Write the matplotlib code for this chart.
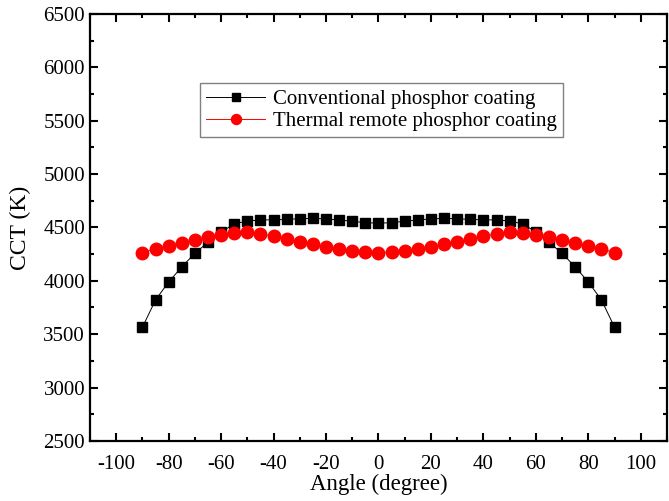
import matplotlib.pyplot as plt
from matplotlib.ticker import MultipleLocator

# data
angle = [-90, -85, -80, -75, -70, -65, -60, -55, -50, -45, -40, -35, -30, -25, -20, -15, -10, -5,
         0, 5, 10, 15, 20, 25, 30, 35, 40, 45, 50, 55, 60, 65, 70, 75, 80, 85, 90]
conventional = [3565, 3821, 3989, 4130, 4258, 4361, 4458, 4533, 4561, 4570, 4572, 4575, 4582, 4585,
                4580, 4570, 4558, 4545, 4540, 4545, 4558, 4570, 4580, 4585, 4582, 4575, 4572,
                4570, 4561, 4533, 4458, 4361, 4258, 4130, 3989, 3821, 3565]
remote = [4264, 4301, 4329, 4354, 4380, 4408, 4433, 4449, 4455, 4438, 4420, 4392, 4367, 4345,
          4316, 4297, 4283, 4270, 4264, 4270, 4283, 4297, 4316, 4345, 4367, 4392, 4420, 4438,
          4455, 4449, 4433, 4408, 4380, 4354, 4329, 4301, 4264]

plt.rcParams['font.family'] = ['Liberation Serif', 'DejaVu Serif']
plt.rcParams['axes.unicode_minus'] = False

fig = plt.figure(figsize=(6.69, 5.01), dpi=100)
ax = fig.add_axes([0.1345, 0.12, 0.8625, 0.852])

ax.plot(angle, conventional, color='black', lw=0.7, marker='s', ms=7.5,
        mfc='black', mec='black', label='Conventional phosphor coating')
ax.plot(angle, remote, color='red', lw=0.7, marker='o', ms=9,
        mfc='red', mec='red', label='Thermal remote phosphor coating')

ax.set_xlim(-110, 110)
ax.set_ylim(2500, 6500)
ax.xaxis.set_major_locator(MultipleLocator(20))
ax.xaxis.set_minor_locator(MultipleLocator(10))
ax.yaxis.set_major_locator(MultipleLocator(500))
ax.yaxis.set_minor_locator(MultipleLocator(250))

ax.tick_params(which='both', direction='in', top=True, right=True, width=1.5, labelsize=15)
ax.tick_params(which='major', length=6)
ax.tick_params(which='minor', length=3)
ax.tick_params(axis='x', pad=10)
for s in ax.spines.values():
    s.set_linewidth(1.6)

ax.set_xlabel('Angle (degree)', fontsize=16.5, labelpad=0)
ax.set_ylabel('CCT (K)', fontsize=17, labelpad=9)

leg = ax.legend(loc='upper left', bbox_to_anchor=(0.173, 0.862), fontsize=15,
                frameon=True, fancybox=False, edgecolor='gray', framealpha=1,
                handlelength=2.8, borderpad=0.3, labelspacing=0.1, handletextpad=0.4,
                markerscale=0.8)
leg.get_frame().set_linewidth(1.0)

fig.savefig('out.png', dpi=100)
